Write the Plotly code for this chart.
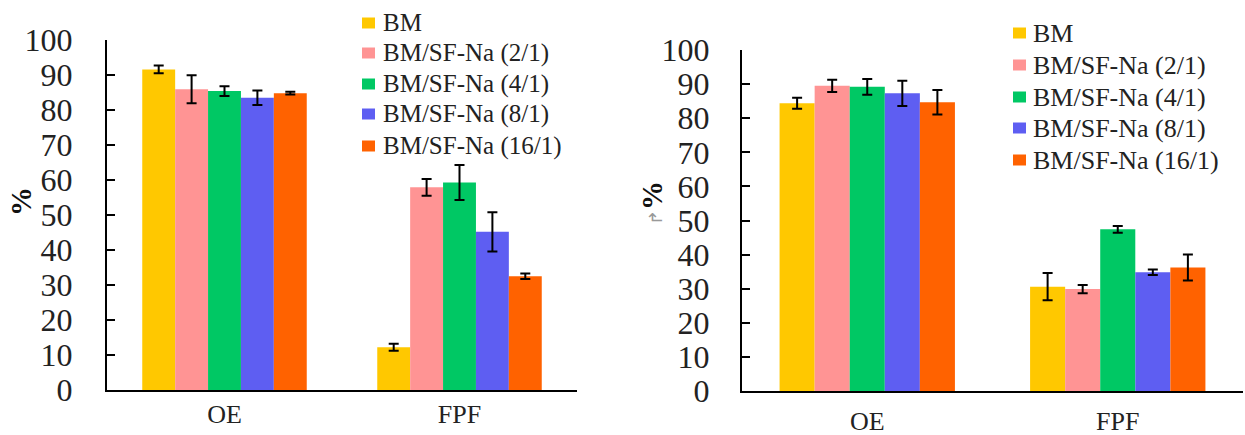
import plotly.graph_objects as go

categories = ["OE", "FPF"]
series_names = ["BM", "BM/SF-Na (2/1)", "BM/SF-Na (4/1)", "BM/SF-Na (8/1)", "BM/SF-Na (16/1)"]
colors = ["#FFC800", "#FF9494", "#00C864", "#5E5EF2", "#FF6200"]

# Panel A: mean values and standard deviations for OE and FPF
left_values = [
    [91.6, 12.2],
    [85.9, 57.9],
    [85.4, 59.3],
    [83.5, 45.2],
    [84.8, 32.5],
]
left_errors = [
    [1.1, 1.0],
    [4.0, 2.4],
    [1.4, 5.0],
    [2.1, 5.6],
    [0.4, 0.8],
]

# Panel B
right_values = [
    [84.4, 30.6],
    [89.5, 29.9],
    [89.2, 47.4],
    [87.3, 34.8],
    [84.7, 36.2],
]
right_errors = [
    [1.6, 4.0],
    [1.8, 1.2],
    [2.3, 1.0],
    [3.7, 0.8],
    [3.6, 3.8],
]

y_ticks = [0, 10, 20, 30, 40, 50, 60, 70, 80, 90, 100]

SERIF = "Liberation Serif"
W, H = 1245, 435


def px_x(v):
    return v / W


def px_y(v):
    return 1 - v / H


fig = go.Figure()

for i, name in enumerate(series_names):
    fig.add_trace(go.Bar(
        x=categories, y=left_values[i], name=name, showlegend=False,
        marker=dict(color=colors[i], line=dict(width=0)),
        error_y=dict(type="data", array=left_errors[i], color="black", thickness=2, width=5),
        xaxis="x", yaxis="y",
    ))
for i, name in enumerate(series_names):
    fig.add_trace(go.Bar(
        x=categories, y=right_values[i], name=name, showlegend=False,
        marker=dict(color=colors[i], line=dict(width=0)),
        error_y=dict(type="data", array=right_errors[i], color="black", thickness=2, width=5),
        xaxis="x2", yaxis="y2",
    ))


def xaxis_style(standoff):
    return dict(
        showline=True, linecolor="black", linewidth=2, ticks="", showgrid=False,
        tickfont=dict(family=SERIF, size=26, color="#222"), ticklabelstandoff=standoff,
        zeroline=False, automargin=False,
    )


def yaxis_style(standoff):
    return dict(
        range=[0, 100], tickvals=y_ticks, showline=True, linecolor="black", linewidth=2,
        ticks="inside", ticklen=8, tickwidth=2, tickcolor="black", showgrid=False,
        tickfont=dict(family=SERIF, size=32, color="#222"), ticklabelstandoff=standoff,
        zeroline=False, automargin=False,
    )


# Hand-placed legends: one swatch + label per series, for each panel
shapes = []
annotations = []
legend_specs = [
    # swatch left, swatch right, text x, row centres, font size
    (362, 375, 381, [23, 53, 84, 114, 146], 25),
    (1013, 1026, 1031, [33, 65, 97, 128, 160], 26),
]
for sx0, sx1, tx, rows, fsize in legend_specs:
    for name, color, yc in zip(series_names, colors, rows):
        shapes.append(dict(
            type="rect", xref="paper", yref="paper",
            x0=px_x(sx0), x1=px_x(sx1), y0=px_y(yc + 5.5), y1=px_y(yc - 5.5),
            fillcolor=color, line=dict(width=0), layer="above",
        ))
        annotations.append(dict(
            text=name, x=px_x(tx), y=px_y(yc), xref="paper", yref="paper",
            xanchor="left", yanchor="middle", showarrow=False,
            font=dict(family=SERIF, size=fsize, color="#222"),
        ))

annotations += [
    dict(text="<b>%</b>", x=px_x(21), y=px_y(202), xref="paper", yref="paper",
         xanchor="center", yanchor="middle", showarrow=False, textangle=-90,
         font=dict(family=SERIF, size=29, color="#111")),
    dict(text="<span style='font-size:18px;color:#999'>↱</span><b>%</b>",
         x=px_x(652), y=px_y(203), xref="paper", yref="paper",
         xanchor="center", yanchor="middle", showarrow=False, textangle=-90,
         font=dict(family=SERIF, size=29, color="#111")),
]

fig.update_layout(
    width=W, height=H,
    margin=dict(l=0, r=0, t=0, b=0),
    paper_bgcolor="white", plot_bgcolor="white",
    barmode="group", bargap=0.30, bargroupgap=0,
    showlegend=False,
    xaxis=dict(domain=[px_x(107), px_x(577)], anchor="y", **xaxis_style(0)),
    yaxis=dict(domain=[px_y(390), px_y(40)], anchor="x", **yaxis_style(26)),
    xaxis2=dict(domain=[px_x(742), px_x(1243)], anchor="y2", **xaxis_style(6)),
    yaxis2=dict(domain=[px_y(391), px_y(50)], anchor="x2", **yaxis_style(24)),
    shapes=shapes,
    annotations=annotations,
)

fig.write_html("out.html")
